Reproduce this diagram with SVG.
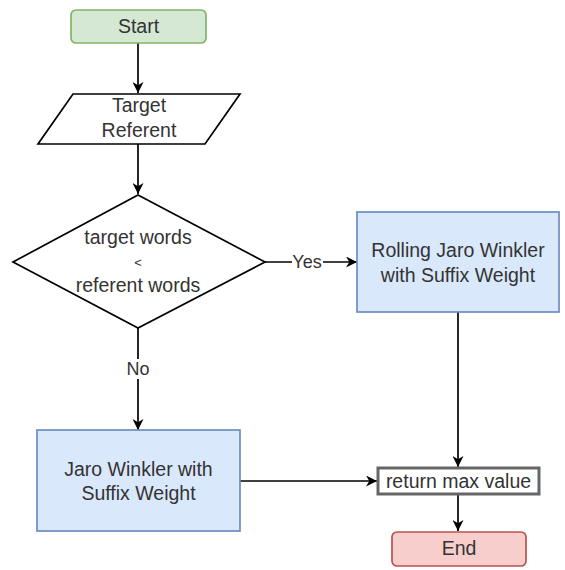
<svg xmlns="http://www.w3.org/2000/svg" width="565" height="570" viewBox="0 0 565 570">
  <defs>
    <marker id="arrow" viewBox="0 0 10 10" refX="10" refY="5" markerWidth="11" markerHeight="11" markerUnits="userSpaceOnUse" orient="auto">
      <path d="M0,0 L10,5 L0,10 L3,5 Z" fill="#000"/>
    </marker>
  </defs>
  <style>
    text { font-family: "Liberation Sans", Arial, sans-serif; font-size: 19.5px; fill: #333; text-anchor: middle; }
    .edge { fill: none; stroke: #000; stroke-width: 1.7; marker-end: url(#arrow); }
    .green { fill: #d5e8d4; stroke: #82b366; stroke-width: 1.7; }
    .blue { fill: #dae8fc; stroke: #6c8ebf; stroke-width: 1.7; }
    .red { fill: #f8cecc; stroke: #b85450; stroke-width: 1.7; }
    .shape { fill: #fff; stroke: #000; stroke-width: 1.7; }
    .ret { fill: #fff; stroke: #666; stroke-width: 3; }
    .lbl { font-size: 18px; }
  </style>

  <g id="connectors">
    <path class="edge" d="M138,43 L138,93"/>
    <path class="edge" d="M138,144 L138,194"/>
    <path class="edge" d="M265,262 L357,262"/>
    <path class="edge" d="M138,328 L138,430"/>
    <path class="edge" d="M458,312 L458,467"/>
    <path class="edge" d="M240,481 L377,481"/>
    <path class="edge" d="M458,494 L458,531"/>
    <rect x="292" y="252" width="31" height="20" fill="#fff"/>
    <text class="lbl" x="307" y="268">Yes</text>
    <rect x="125" y="359" width="26" height="20" fill="#fff"/>
    <text class="lbl" x="138" y="375">No</text>
  </g>

  <g id="start">
    <rect class="green" x="71" y="10" width="135" height="33" rx="5"/>
    <text x="138.5" y="33">Start</text>
  </g>

  <g id="input">
    <polygon class="shape" points="73,94 240,94 205,144 38,144"/>
    <text x="139" y="112">Target</text>
    <text x="139" y="137">Referent</text>
  </g>

  <g id="decision">
    <polygon class="shape" points="138,195 265,262 138,328 13,262"/>
    <text x="138" y="244">target words</text>
    <text x="138" y="267" style="font-size:13px">&lt;</text>
    <text x="138" y="292">referent words</text>
  </g>

  <g id="rolling">
    <rect class="blue" x="357" y="212" width="202" height="100"/>
    <text x="458" y="257">Rolling Jaro Winkler</text>
    <text x="458" y="282">with Suffix Weight</text>
  </g>

  <g id="jaro">
    <rect class="blue" x="37" y="430" width="203" height="101"/>
    <text x="138.5" y="476">Jaro Winkler with</text>
    <text x="138.5" y="500">Suffix Weight</text>
  </g>

  <g id="return">
    <rect class="ret" x="378" y="468" width="161" height="26"/>
    <text x="458.5" y="488">return max value</text>
  </g>

  <g id="end">
    <rect class="red" x="392" y="532" width="134" height="34" rx="5"/>
    <text x="459" y="555">End</text>
  </g>
</svg>
